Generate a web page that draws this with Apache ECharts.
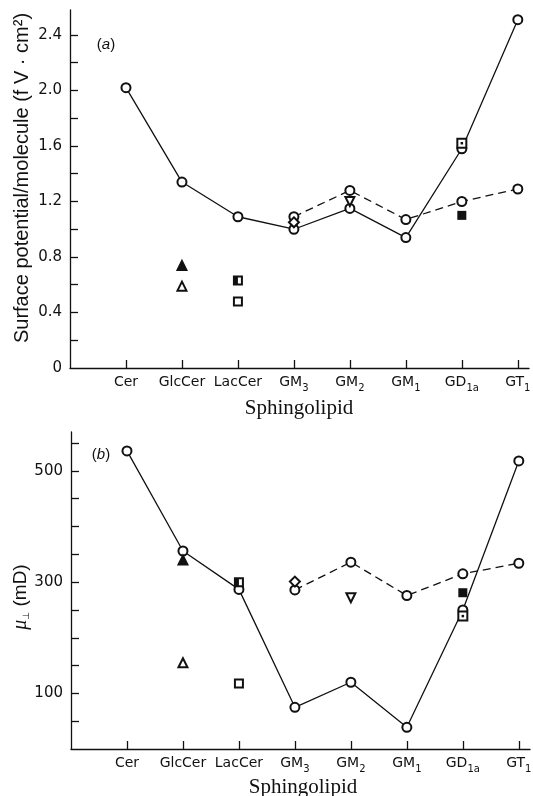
<!DOCTYPE html>
<html>
<head>
<meta charset="utf-8">
<script src="https://cdn.jsdelivr.net/npm/echarts@6/dist/echarts.min.js"></script>
<style>
html,body{margin:0;padding:0;background:#fff;}
#chart{width:533px;height:796px;}
</style>
</head>
<body>
<div id="chart"></div>
<script>
// ---- data ----
const catMain = ['Cer','GlcCer','LacCer','GM','GM','GM','GD','GT'];
const catSub  = ['','','','3','2','1','1a','1'];

// panel (a): surface potential / molecule (fV·cm²)
const solidA   = [2.02, 1.34, 1.09, 1.00, 1.15, 0.94, 1.58, 2.51];
const dashedA  = [null, null, null, 1.09, 1.28, 1.07, 1.20, 1.29];
const filledTriA = [[2, 0.74]];
const openTriA   = [[2, 0.59]];
const halfSqA    = [[3, 0.63]];
const openSqA    = [[3, 0.48]];
const diamondA   = [[4, 1.05]];
const invTriA    = [[5, 1.20]];
const filledSqA  = [[7, 1.10]];
const dotSqA     = [[7, 1.62]];
const yTicksA  = [0.2,0.4,0.6,0.8,1.0,1.2,1.4,1.6,1.8,2.0,2.2,2.4];
const yLabelsA = [0,0.4,0.8,1.2,1.6,2.0,2.4];

// panel (b): mu_perp (mD)
const solidB   = [536, 356, 287, 75, 120, 39, 250, 518];
const dashedB  = [null, null, null, 286, 336, 276, 315, 334];
const filledTriB = [[2, 340]];
const openTriB   = [[2, 155]];
const halfSqB    = [[3, 300]];
const openSqB    = [[3, 118]];
const diamondB   = [[4, 301]];
const invTriB    = [[5, 272]];
const filledSqB  = [[7, 281]];
const dotSqB     = [[7, 239]];
const yTicksB  = [50,100,150,200,250,300,350,400,450,500,550];
const yLabelsB = [100,300,500];

// ---- helpers ----
const xPos = catMain.map((_, i) => i + 1);
const toPairs = arr => arr.map((v, i) => v == null ? null : [i + 1, v]).filter(p => p);
const INK = '#111';
const LW = 1.3;

function xAxisFor(gi) {
  return {
    type: 'value', gridIndex: gi, min: 0, max: 8.2,
    axisLine: { show: true, onZero: false, lineStyle: { color: INK, width: LW } },
    axisTick: { show: true, inside: true, length: 8, customValues: xPos, lineStyle: { color: INK, width: LW } },
    axisLabel: {
      customValues: xPos, margin: 7, color: INK,
      fontFamily: 'DejaVu Sans', fontSize: 14,
      formatter: v => {
        const i = Math.round(v) - 1;
        return catSub[i] ? '{n|' + catMain[i] + '}{s|' + catSub[i] + '}' : '{n|' + catMain[i] + '}';
      },
      rich: {
        n: { fontFamily: 'DejaVu Sans', fontSize: 14, color: INK, verticalAlign: 'top', lineHeight: 18 },
        s: { fontFamily: 'DejaVu Sans', fontSize: 10, color: INK, verticalAlign: 'top', lineHeight: 18, padding: [8, 0, 0, 0] }
      }
    },
    splitLine: { show: false }
  };
}
function yAxisFor(gi, max, ticks, labels, fmt) {
  return {
    type: 'value', gridIndex: gi, min: 0, max: max,
    axisLine: { show: true, lineStyle: { color: INK, width: LW } },
    axisTick: { show: true, inside: true, length: 8, customValues: ticks, lineStyle: { color: INK, width: LW } },
    axisLabel: { customValues: labels, margin: 8, color: INK, fontFamily: 'DejaVu Sans', fontSize: 15, formatter: fmt },
    splitLine: { show: false }
  };
}
function lineSeries(gi, data, dashed) {
  return {
    type: 'line', xAxisIndex: gi, yAxisIndex: gi, data: data,
    symbol: 'emptyCircle', symbolSize: 9, z: 3,
    itemStyle: { color: INK, borderColor: INK, borderWidth: LW, opacity: 1 },
    lineStyle: { color: INK, width: LW, type: dashed ? [8, 5] : 'solid' },
    animation: false, silent: true
  };
}
function sc(gi, data, symbol, size, opts) {
  const base = {
    type: 'scatter', xAxisIndex: gi, yAxisIndex: gi, data: data,
    symbol: symbol, symbolSize: size, z: 4,
    itemStyle: { color: INK, borderColor: INK, borderWidth: LW, opacity: 1 },
    animation: false, silent: true
  };
  if (opts && opts.itemStyle) { opts.itemStyle = Object.assign({ opacity: 1 }, opts.itemStyle); }
  return Object.assign(base, opts || {});
}
function extras(gi, d) {
  return [
    sc(gi, d.filledTri, 'triangle', 10),
    sc(gi, d.openTri, 'emptyTriangle', 9),
    sc(gi, d.openSq, 'emptyRect', 8),
    sc(gi, d.halfSq, 'emptyRect', 8),
    sc(gi, d.halfSq, 'rect', [4, 8], { symbolOffset: [-2, 0], z: 5, itemStyle: { color: INK } }),
    sc(gi, d.diamond, 'emptyDiamond', 10),
    sc(gi, d.invTri, 'emptyTriangle', 9, { symbolRotate: 180 }),
    sc(gi, d.filledSq, 'rect', 9, { itemStyle: { color: INK } }),
    sc(gi, d.dotSq, 'emptyRect', 9, { z: 5 }),
    sc(gi, d.dotSq, 'rect', 2.5, { z: 6, itemStyle: { color: INK } })
  ];
}

const chart = echarts.init(document.getElementById('chart'), null, { renderer: 'canvas' });
chart.setOption({
  backgroundColor: '#fff',
  animation: false,
  grid: [
    { left: 70, top: 10, width: 459, height: 358, containLabel: false, outerBoundsMode: 'none' },
    { left: 71, top: 432, width: 459, height: 317, containLabel: false, outerBoundsMode: 'none' }
  ],
  xAxis: [xAxisFor(0), xAxisFor(1)],
  yAxis: [
    yAxisFor(0, 2.58, yTicksA, yLabelsA, v => v === 0 ? '0' : v.toFixed(1)),
    yAxisFor(1, 570, yTicksB, yLabelsB, v => String(v))
  ],
  series: [
    lineSeries(0, toPairs(solidA), false),
    lineSeries(0, toPairs(dashedA), true),
    ...extras(0, { filledTri: filledTriA, openTri: openTriA, halfSq: halfSqA, openSq: openSqA, diamond: diamondA, invTri: invTriA, filledSq: filledSqA, dotSq: dotSqA }),
    lineSeries(1, toPairs(solidB), false),
    lineSeries(1, toPairs(dashedB), true),
    ...extras(1, { filledTri: filledTriB, openTri: openTriB, halfSq: halfSqB, openSq: openSqB, diamond: diamondB, invTri: invTriB, filledSq: filledSqB, dotSq: dotSqB })
  ],
  graphic: [
    { type: 'text', x: 22, y: 178, rotation: Math.PI / 2,
      style: { text: 'Surface potential/molecule (f V · cm²)', fill: INK, font: '20px "Liberation Sans"', align: 'center', verticalAlign: 'middle' } },
    { type: 'text', x: 299, y: 408,
      style: { text: 'Sphingolipid', fill: INK, font: '21px "Liberation Serif"', align: 'center', verticalAlign: 'middle' } },
    { type: 'text', x: 106, y: 45,
      style: { text: '({i|a})', fill: INK, font: '15px "Liberation Sans"', align: 'center', verticalAlign: 'middle',
        rich: { i: { fontStyle: 'italic', fontFamily: 'Liberation Sans', fontSize: 15, fill: INK } } } },
    { type: 'text', x: 101, y: 455,
      style: { text: '({i|b})', fill: INK, font: '15px "Liberation Sans"', align: 'center', verticalAlign: 'middle',
        rich: { i: { fontStyle: 'italic', fontFamily: 'Liberation Sans', fontSize: 15, fill: INK } } } },
    { type: 'text', x: 22, y: 597, rotation: Math.PI / 2,
      style: { text: '{m|μ}{s|⊥}{n| (mD)}', fill: INK, align: 'center', verticalAlign: 'middle',
        rich: {
          m: { fontStyle: 'italic', fontFamily: 'Liberation Serif', fontSize: 20, fill: INK, verticalAlign: 'top', lineHeight: 22 },
          s: { fontFamily: 'DejaVu Sans', fontSize: 9, fill: INK, verticalAlign: 'top', lineHeight: 22, padding: [11, 0, 0, 0] },
          n: { fontFamily: 'Liberation Sans', fontSize: 19, fill: INK, verticalAlign: 'top', lineHeight: 22 }
        } } },
    { type: 'text', x: 303, y: 787,
      style: { text: 'Sphingolipid', fill: INK, font: '21px "Liberation Serif"', align: 'center', verticalAlign: 'middle' } }
  ]
});
</script>
</body>
</html>
